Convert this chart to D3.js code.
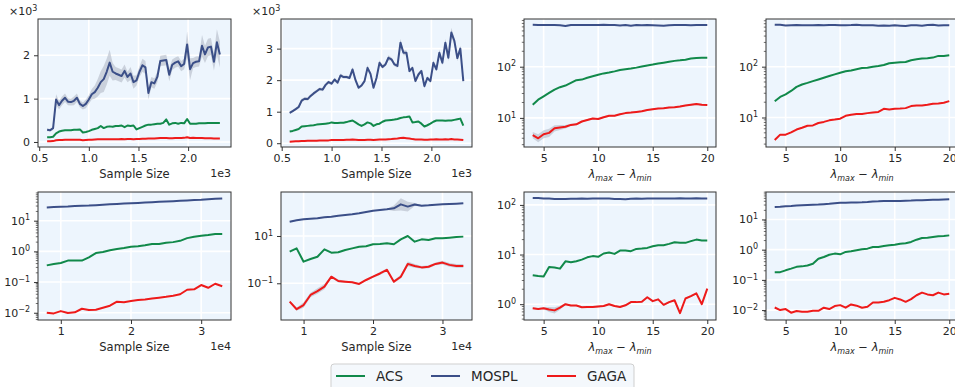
<!DOCTYPE html>
<html>
<head>
<meta charset="utf-8">
<script src="https://cdn.jsdelivr.net/npm/d3@7"></script>
<style>
body { margin: 0; background: #fff; }
svg text { font-family: "DejaVu Sans", sans-serif; fill: #262626; }
</style>
</head>
<body>
<script>
// x values
var sizesA = [580,610,640,670,700,730,760,790,820,850,880,910,940,970,1000,1030,1060,1090,1120,1150,
  1180,1210,1240,1270,1300,1330,1360,1390,1420,1450,1480,1510,1540,1570,1600,1630,1660,1690,1720,1750,
  1780,1810,1840,1870,1900,1930,1960,1990,2020,2050,2080,2110,2140,2170,2200,2230,2260,2290,2320];
var sizesB = [8000,9000,10000,11000,12000,13000,14000,15000,16000,17000,18000,19000,20000,
  21000,22000,23000,24000,25000,26000,27000,28000,29000,30000,31000,32000,33000];
var lambdas = [4,4.5,5,5.5,6,6.5,7,7.5,8,8.5,9,9.5,10,10.5,11,11.5,12,12.5,13,13.5,14,14.5,15,15.5,16,16.5,17,17.5,18,18.5,19,19.5,20];

// panel 1 (values in thousands)
var p1Mospl = [0.28,0.27,0.32,0.98,0.85,0.95,1.02,0.93,0.92,0.95,1.02,0.88,0.83,0.88,0.98,1.1,1.15,1.25,1.38,1.45,
  1.62,1.83,1.62,1.58,1.55,1.52,1.64,1.5,1.58,1.38,1.42,1.62,1.77,1.72,1.13,1.38,1.35,1.5,1.87,1.88,
  1.89,1.55,1.78,1.83,1.86,1.75,1.8,2.25,1.68,1.82,1.85,1.86,2.22,2.02,2.18,2.2,1.85,2.3,2.02];
var p1MosplErr = [0.03,0.03,0.05,0.12,0.1,0.1,0.1,0.08,0.08,0.1,0.1,0.08,0.08,0.1,0.1,0.12,0.15,0.2,0.25,0.3,
  0.3,0.3,0.2,0.15,0.15,0.15,0.15,0.12,0.15,0.15,0.12,0.12,0.15,0.15,0.15,0.12,0.12,0.12,0.12,0.12,
  0.12,0.15,0.12,0.12,0.12,0.12,0.12,0.3,0.25,0.12,0.12,0.12,0.25,0.2,0.2,0.2,0.2,0.3,0.3];
var p1Acs = [0.11,0.11,0.12,0.2,0.24,0.26,0.27,0.27,0.27,0.28,0.28,0.29,0.22,0.23,0.25,0.28,0.3,0.32,0.37,0.32,
  0.35,0.36,0.35,0.37,0.37,0.38,0.34,0.38,0.37,0.38,0.29,0.32,0.35,0.38,0.4,0.4,0.41,0.42,0.42,0.44,
  0.52,0.4,0.43,0.44,0.42,0.44,0.43,0.53,0.42,0.42,0.42,0.43,0.43,0.43,0.44,0.44,0.44,0.44,0.44];
var p1Gaga = [0.015,0.015,0.02,0.04,0.045,0.045,0.05,0.05,0.05,0.05,0.05,0.05,0.04,0.045,0.05,0.05,0.055,0.06,0.06,0.06,
  0.06,0.065,0.06,0.065,0.065,0.07,0.065,0.07,0.07,0.065,0.07,0.07,0.075,0.075,0.08,0.08,0.08,0.085,0.09,0.09,
  0.09,0.085,0.085,0.09,0.09,0.09,0.095,0.11,0.09,0.095,0.09,0.09,0.09,0.085,0.085,0.085,0.08,0.08,0.08];

// panel 2 (values in thousands)
var p2Mospl = [0.96,1.02,1.08,1.15,1.35,1.41,1.4,1.5,1.58,1.65,1.72,1.7,1.85,1.94,1.89,2.02,1.92,2.15,2.1,2.1,
  2.07,2.34,2.0,1.76,1.83,1.97,2.39,2.2,1.76,2.07,2.55,2.42,2.5,2.71,2.66,2.5,2.45,3.19,2.87,2.87,
  2.29,2.39,1.97,2.18,2.29,1.81,2.07,1.97,2.55,2.34,2.87,2.55,3.19,2.71,3.51,3.25,2.7,3.0,1.97];
var p2MosplErr = [0.03,0.03,0.04,0.05,0.06,0.05,0.05,0.05,0.05,0.05,0.05,0.05,0.05,0.05,0.05,0.06,0.05,0.06,0.05,0.05,
  0.05,0.08,0.06,0.05,0.05,0.05,0.08,0.06,0.05,0.05,0.08,0.06,0.06,0.08,0.06,0.06,0.06,0.12,0.08,0.08,
  0.06,0.06,0.06,0.06,0.06,0.06,0.06,0.06,0.08,0.06,0.1,0.08,0.12,0.1,0.15,0.1,0.1,0.1,0.08];
var p2Acs = [0.37,0.39,0.42,0.45,0.53,0.54,0.55,0.56,0.57,0.59,0.6,0.61,0.62,0.63,0.66,0.64,0.64,0.65,0.65,0.67,
  0.7,0.72,0.66,0.6,0.55,0.6,0.66,0.63,0.55,0.6,0.62,0.68,0.72,0.73,0.74,0.75,0.77,0.8,0.82,0.83,
  0.85,0.66,0.67,0.69,0.62,0.53,0.57,0.62,0.68,0.72,0.72,0.72,0.71,0.72,0.72,0.74,0.76,0.78,0.56];
var p2Gaga = [0.05,0.055,0.06,0.065,0.07,0.07,0.075,0.075,0.08,0.08,0.085,0.085,0.09,0.09,0.1,0.1,0.1,0.105,0.105,0.11,
  0.11,0.115,0.11,0.1,0.1,0.105,0.11,0.11,0.105,0.11,0.115,0.12,0.12,0.125,0.13,0.14,0.15,0.165,0.17,0.16,
  0.15,0.13,0.12,0.12,0.115,0.11,0.11,0.12,0.12,0.125,0.12,0.12,0.125,0.12,0.13,0.12,0.115,0.11,0.1];

// panel 3
var p3Mospl = [660,655,650,650,655,648,625,655,650,650,655,650,655,660,655,650,640,655,630,650,645,650,645,640,628,645,650,655,650,648,652,650,650];
var p3Acs = [18.1,22.7,26.3,30.7,35.7,39.8,42.8,48.3,54.6,56,60.7,65,69.5,74,77,81,86,89,92,96,101,106,110,115,120,125,130,133,137,144,148,150,150];
var p3Gaga = [4.6,4.0,4.8,5.1,6.25,6.5,6.7,7.3,7.5,8.5,9.1,9.7,9.5,10.3,11,11,11.8,12.4,12.7,13.1,13.5,14.2,14.8,15.3,15.5,16,16.2,16.7,17.5,18,18.6,18,17.8];
var p3GagaSpread = [1.15,1.2,1.2,1.2,1.15,1.12,1.08,1.05,1.04,1.04,1.04,1.04,1.04,1.04,1.04,1.03,1.03,1.03,1.03,1.03,1.03,1.03,1.03,1.03,1.03,1.03,1.03,1.03,1.03,1.04,1.04,1.04,1.04];

// panel 4
var p4Mospl = [670,665,645,655,660,650,655,650,660,655,660,660,650,655,660,670,650,655,650,640,645,640,650,640,630,650,655,640,660,665,645,655,650];
var p4Acs = [20.8,25.4,28.6,33.3,40,44.6,48,52,56,60.5,65.5,70.5,76,81,84.5,89,94,95,100,103,108,117,120,122,124,134,140,145,147,151,163,163,168];
var p4Gaga = [3.6,4.6,4.6,5.1,5.8,6.3,6.9,7.0,7.8,8.2,8.8,9.1,9.5,10.8,11.3,11.7,11.7,12.2,12.6,12.9,14.8,14.4,14.8,15.0,15.3,16.8,17.3,17.3,17.8,18.7,18.9,19.5,21];

// panel 5
var p5Mospl = [27,28,28.5,29,30,30.5,31,32,33,34,35,36,37,38,39,40,41,42,43,44.5,45.5,47,48,50,51.5,53];
var p5Acs = [0.35,0.39,0.42,0.5,0.5,0.5,0.64,0.88,0.95,1.08,1.19,1.28,1.42,1.47,1.57,1.73,1.73,1.9,2.0,2.2,2.7,3.0,3.2,3.4,3.7,3.7];
var p5Gaga = [0.01,0.0095,0.0113,0.0098,0.0103,0.0135,0.0122,0.0125,0.0145,0.017,0.023,0.022,0.024,0.026,0.027,0.029,0.031,0.033,0.036,0.04,0.056,0.058,0.08,0.065,0.088,0.073];

// panel 6
var p6Mospl = [40.3,45.9,50.6,54,55.8,61.5,65.6,72.3,77.1,82.3,90.7,103,117.6,125,134,148,218,175,215,191,198,211,218,225,232,240];
var p6MosplSpread = [1.03,1.03,1.03,1.03,1.03,1.03,1.03,1.03,1.03,1.03,1.03,1.03,1.04,1.04,1.05,1.3,1.8,1.6,1.15,1.06,1.05,1.04,1.04,1.04,1.04,1.04];
var p6Acs = [2.18,3.0,0.82,1.06,1.33,2.73,1.97,2.04,2.56,3.0,3.5,3.7,4.45,4.6,4.9,4.45,7.2,10,5.75,7.2,6.8,8,8,8.5,9.1,9.4];
var p6Gaga = [0.0168,0.008,0.012,0.032,0.047,0.072,0.19,0.125,0.117,0.11,0.094,0.138,0.19,0.26,0.37,0.117,0.19,0.66,0.54,0.47,0.5,0.66,0.75,0.6,0.54,0.54];
var p6GagaSpread = [1.1,1.15,1.3,1.25,1.3,1.3,1.1,1.15,1.1,1.08,1.08,1.1,1.1,1.15,1.15,1.15,1.2,1.25,1.2,1.15,1.15,1.15,1.2,1.2,1.2,1.2];

// panel 7
var p7Mospl = [138,137,135,134,132,131,132,133,133,134,133,134,135,135,134,132,131,130,133,134,133,135,134,134,135,134,135,136,135,135,136,135,135];
var p7Acs = [3.84,3.7,3.6,5.6,5.5,5.2,7.3,7.0,7.3,7.9,8.8,9.3,9.0,10.5,11,10.3,12,12,11.7,13,13.2,13.6,14.7,15.4,15.4,16.4,17.7,17.2,17.2,18.6,20,19.1,19.1];
var p7Gaga = [0.83,0.8,0.83,0.78,0.75,0.85,1.0,0.94,0.94,0.87,0.88,0.88,0.9,0.92,1.0,0.92,0.88,0.95,1.1,1.1,1.12,1.38,1.15,1.25,0.97,1.1,1.2,0.66,1.3,1.45,1.65,1.0,2.05];
var p7GagaSpread = [1.04,1.04,1.05,1.12,1.15,1.1,1.04,1.04,1.04,1.04,1.04,1.04,1.04,1.04,1.04,1.04,1.04,1.04,1.04,1.04,1.04,1.04,1.04,1.04,1.04,1.04,1.04,1.04,1.04,1.04,1.04,1.04,1.04];

// panel 8
var p8Mospl = [26,26.5,27.5,28,29,29.5,30,30.5,31,32,33,34.5,36,36,36.5,36.5,37,38,39.5,40,41,41,41,41,41.5,42,43,43.5,44,44.5,45,46,47];
var p8Acs = [0.18,0.18,0.207,0.235,0.27,0.28,0.3,0.34,0.5,0.57,0.68,0.74,0.7,0.84,0.88,0.95,1.03,1.08,1.22,1.22,1.32,1.39,1.46,1.58,1.62,1.8,2.14,2.43,2.5,2.62,2.76,2.83,2.97];
var p8Gaga = [0.0122,0.01,0.0108,0.0082,0.0093,0.0088,0.0088,0.0095,0.0095,0.012,0.0108,0.0136,0.0146,0.012,0.0154,0.014,0.012,0.0129,0.0179,0.0179,0.0188,0.0213,0.0254,0.0225,0.0188,0.023,0.031,0.038,0.033,0.031,0.038,0.033,0.035];

var names = ["ACS", "MOSPL", "GAGA"];
var colors = { ACS: "#11894a", MOSPL: "#3b4f88", GAGA: "#ee1a1a" };

var svg = d3.select("body").append("svg").attr("width", 955).attr("height", 387);

function expText(e) { return String(e).replace("-", "\u2212"); }
function lambdaLabel(g, w, h) {
  var t = g.append("text").attr("x", w / 2).attr("y", h + 31).attr("text-anchor", "middle")
    .attr("font-size", 11.5).attr("font-style", "italic");
  t.append("tspan").text("\u03bb");
  t.append("tspan").attr("font-size", 8).attr("dy", 3).text("max");
  t.append("tspan").attr("dy", -3).attr("font-style", "normal").text(" \u2212 ");
  t.append("tspan").text("\u03bb");
  t.append("tspan").attr("font-size", 8).attr("dy", 3).text("min");
}

var panelId = 0;
function drawPanel(p) {
  panelId++;
  var x0 = p.box[0], y0 = p.box[1], w = p.box[2] - x0, h = p.box[3] - y0;
  var g = svg.append("g").attr("transform", "translate(" + x0 + "," + y0 + ")");
  var x = d3.scaleLinear().domain(p.xDomain).range([0, w]);
  var y = (p.log ? d3.scaleLog() : d3.scaleLinear()).domain(p.yDomain).range([h, 0]);

  g.append("clipPath").attr("id", "clip" + panelId)
    .append("rect").attr("width", w).attr("height", h);
  g.append("rect").attr("width", w).attr("height", h).attr("fill", "#edf5fd");

  // grid
  g.selectAll(null).data(p.xTicks).enter().append("line")
    .attr("x1", function(d) { return x(d); }).attr("x2", function(d) { return x(d); })
    .attr("y1", 0).attr("y2", h).attr("stroke", "#fff").attr("stroke-width", 1.6);
  g.selectAll(null).data(p.yTicks).enter().append("line")
    .attr("y1", function(d) { return y(d); }).attr("y2", function(d) { return y(d); })
    .attr("x1", 0).attr("x2", w).attr("stroke", "#fff").attr("stroke-width", 1.6);

  var plot = g.append("g").attr("clip-path", "url(#clip" + panelId + ")");

  // shaded bands
  (p.bands || []).forEach(function(b) {
    var vals = p.series[b.name];
    var area = d3.area()
      .x(function(d, i) { return x(p.x[i]); })
      .y0(function(d, i) { return p.log ? y(d / b.spread[i]) : y(d - b.spread[i]); })
      .y1(function(d, i) { return p.log ? y(d * b.spread[i]) : y(d + b.spread[i]); });
    plot.append("path").datum(vals).attr("d", area)
      .attr("fill", "#b3b9c6").attr("opacity", 0.6);
  });

  names.forEach(function(n) {
    var line = d3.line()
      .x(function(d, i) { return x(p.x[i]); })
      .y(function(d) { return y(d); });
    plot.append("path").datum(p.series[n]).attr("d", line)
      .attr("fill", "none").attr("stroke", colors[n]).attr("stroke-width", 2)
      .attr("stroke-linejoin", "round");
  });

  // axes
  var xa = g.append("g").attr("transform", "translate(0," + h + ")")
    .call(d3.axisBottom(x).tickValues(p.xTicks).tickSize(4).tickPadding(3).tickFormat(p.xFmt));
  var ya = g.append("g")
    .call(d3.axisLeft(y).tickValues(p.yTicks).tickSize(4).tickPadding(4).tickFormat(p.log ? function() { return ""; } : p.yFmt));
  [xa, ya].forEach(function(a) {
    a.attr("font-size", 11).attr("font-family", "DejaVu Sans");
    a.select(".domain").remove();
    a.selectAll(".tick line").attr("stroke", "#333");
    a.selectAll(".tick text").attr("fill", "#262626");
  });
  if (p.log) {
    ya.selectAll(".tick text").each(function(d) {
      var t = d3.select(this);
      t.text("10");
      t.append("tspan").attr("dy", "-0.55em").attr("font-size", 8)
        .text(expText(Math.round(Math.log10(d))));
    });
    if (p.minor) {
      var minor = [];
      var lo = Math.floor(Math.log10(p.yDomain[0])), hi = Math.ceil(Math.log10(p.yDomain[1]));
      for (var e = lo; e <= hi; e++) {
        for (var k = 2; k <= 9; k++) {
          var v = k * Math.pow(10, e);
          if (v >= p.yDomain[0] && v <= p.yDomain[1]) minor.push(v);
        }
      }
      g.selectAll(null).data(minor).enter().append("line")
        .attr("x1", -2.2).attr("x2", 0)
        .attr("y1", function(d) { return y(d); }).attr("y2", function(d) { return y(d); })
        .attr("stroke", "#333").attr("stroke-width", 0.7);
    }
  }

  // frame
  g.append("rect").attr("width", w).attr("height", h)
    .attr("fill", "none").attr("stroke", "#333").attr("stroke-width", 1);

  // labels
  if (p.xLabel === "lambda") {
    lambdaLabel(g, w, h);
  } else {
    g.append("text").attr("x", w / 2).attr("y", h + 31).attr("text-anchor", "middle")
      .attr("font-size", 11.5).text(p.xLabel);
  }
  if (p.xOffset) {
    g.append("text").attr("x", w).attr("y", h + 30).attr("text-anchor", "end")
      .attr("font-size", 11).text(p.xOffset);
  }
  if (p.yOffset) {
    var t = g.append("text").attr("x", -29).attr("y", -4).attr("font-size", 11);
    t.append("tspan").text("\u00d710");
    t.append("tspan").attr("dy", -4).attr("font-size", 8).text("3");
  }
}

var fmtK = function(d) { return d3.format(".1f")(d / 1000); };
var fmtInt = function(d) { return String(d); };
var fmt1e4 = function(d) { return String(d / 10000); };

var panels = [
  { box: [38, 19, 231, 147], x: sizesA, xDomain: [488, 2432], xTicks: [500, 1000, 1500, 2000], xFmt: fmtK,
    yDomain: [-0.116, 2.837], yTicks: [0, 1, 2], yFmt: fmtInt, yOffset: true, xOffset: "1e3", xLabel: "Sample Size",
    series: { ACS: p1Acs, MOSPL: p1Mospl, GAGA: p1Gaga }, bands: [{ name: "MOSPL", spread: p1MosplErr }] },
  { box: [281, 19, 472, 147], x: sizesA, xDomain: [493, 2407], xTicks: [500, 1000, 1500, 2000], xFmt: fmtK,
    yDomain: [-0.12, 3.94], yTicks: [0, 1, 2, 3], yFmt: fmtInt, yOffset: true, xOffset: "1e3", xLabel: "Sample Size",
    series: { ACS: p2Acs, MOSPL: p2Mospl, GAGA: p2Gaga }, bands: [{ name: "MOSPL", spread: p2MosplErr }] },
  { box: [524, 19, 716, 147], x: lambdas, xDomain: [3.2, 20.8], xTicks: [5, 10, 15, 20], xFmt: fmtInt,
    log: true, minor: true, yDomain: [2.7, 855], yTicks: [10, 100], xLabel: "lambda",
    series: { ACS: p3Acs, MOSPL: p3Mospl, GAGA: p3Gaga }, bands: [{ name: "GAGA", spread: p3GagaSpread }] },
  { box: [766, 19, 958, 147], x: lambdas, xDomain: [3.2, 20.8], xTicks: [5, 10, 15, 20], xFmt: fmtInt,
    log: true, minor: true, yDomain: [2.63, 867], yTicks: [10, 100], xLabel: "lambda",
    series: { ACS: p4Acs, MOSPL: p4Mospl, GAGA: p4Gaga } },
  { box: [38, 192, 231, 320], x: sizesB, xDomain: [6750, 34250], xTicks: [10000, 20000, 30000], xFmt: fmt1e4,
    log: true, minor: true, yDomain: [0.0058, 86], yTicks: [0.01, 0.1, 1, 10], xOffset: "1e4", xLabel: "Sample Size",
    series: { ACS: p5Acs, MOSPL: p5Mospl, GAGA: p5Gaga } },
  { box: [281, 192, 472, 320], x: sizesB, xDomain: [6750, 34250], xTicks: [10000, 20000, 30000], xFmt: fmt1e4,
    log: true, minor: false, yDomain: [0.0028, 725], yTicks: [0.1, 10], xOffset: "1e4", xLabel: "Sample Size",
    series: { ACS: p6Acs, MOSPL: p6Mospl, GAGA: p6Gaga },
    bands: [{ name: "MOSPL", spread: p6MosplSpread }, { name: "GAGA", spread: p6GagaSpread }] },
  { box: [524, 192, 716, 320], x: lambdas, xDomain: [3.2, 20.8], xTicks: [5, 10, 15, 20], xFmt: fmtInt,
    log: true, minor: true, yDomain: [0.48, 182], yTicks: [1, 10, 100], xLabel: "lambda",
    series: { ACS: p7Acs, MOSPL: p7Mospl, GAGA: p7Gaga }, bands: [{ name: "GAGA", spread: p7GagaSpread }] },
  { box: [766, 192, 958, 320], x: lambdas, xDomain: [3.2, 20.8], xTicks: [5, 10, 15, 20], xFmt: fmtInt,
    log: true, minor: true, yDomain: [0.0047, 81], yTicks: [0.01, 0.1, 1, 10], xLabel: "lambda",
    series: { ACS: p8Acs, MOSPL: p8Mospl, GAGA: p8Gaga } }
];
panels.forEach(drawPanel);

// legend
var leg = svg.append("g").attr("transform", "translate(331,364)");
leg.append("rect").attr("width", 303).attr("height", 30).attr("rx", 3)
  .attr("fill", "#f4f8fc").attr("stroke", "#cfcfcf");
var legX = [5, 100, 216];
names.forEach(function(n, i) {
  leg.append("line").attr("x1", legX[i]).attr("x2", legX[i] + 29).attr("y1", 12).attr("y2", 12)
    .attr("stroke", colors[n]).attr("stroke-width", 2);
  leg.append("text").attr("x", legX[i] + 40).attr("y", 17).attr("font-size", 13.5).text(n);
});
</script>
</body>
</html>
